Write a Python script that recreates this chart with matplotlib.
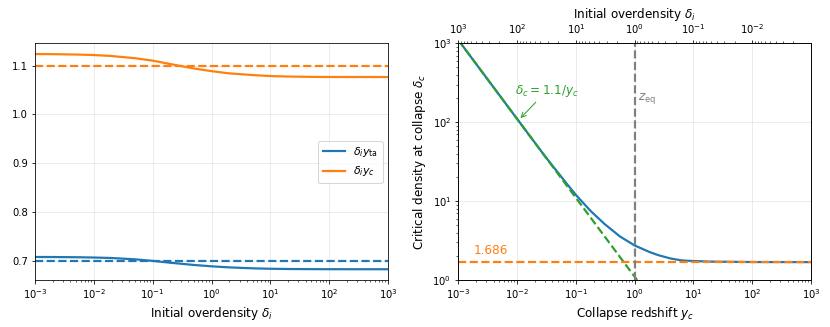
import matplotlib
matplotlib.use("Agg")
import matplotlib.pyplot as plt

# left panel: delta_i * y vs initial overdensity
delta_i = [1e-3, 2e-3, 5e-3, 1e-2, 2e-2, 5e-2, 0.1, 0.2, 0.5, 1, 2, 5, 10, 20, 50, 100, 1000]
dy_ta = [0.7083, 0.7082, 0.7078, 0.7072, 0.7062, 0.7035, 0.7003, 0.6965, 0.6920, 0.6892,
         0.6870, 0.6851, 0.6842, 0.6837, 0.6834, 0.6833, 0.6832]
dy_c = [1.1235, 1.1233, 1.1225, 1.1215, 1.1195, 1.1150, 1.1100, 1.1030, 1.0940, 1.0885,
        1.0840, 1.0805, 1.0785, 1.0775, 1.0768, 1.0766, 1.0765]
ref_ta = 0.7
ref_c = 1.1

# right panel: critical density vs collapse redshift
y_c = [1e-3, 2e-3, 5e-3, 1e-2, 2e-2, 3e-2, 5e-2, 7e-2, 0.1, 0.178, 0.31, 0.56, 1.0,
       1.8, 2.5, 4, 6.3, 10, 20, 100, 1000]
delta_c = [1100, 550, 220, 110, 55.2, 36.8, 22.8, 16.6, 12.0, 7.5, 5.1, 3.57, 2.74,
           2.26, 2.07, 1.88, 1.77, 1.74, 1.71, 1.69, 1.686]
fit_x = [1e-3, 1.1]
fit_y = [1100, 1.0]
delta_lin = 1.686
z_eq = 1.0
top_ticks = [1e3, 1e2, 1e1, 1e0, 1e-1, 1e-2]

plt.rcParams["axes.labelsize"] = 12
plt.rcParams["legend.fontsize"] = 11

fig = plt.figure(figsize=(830 / 72, 327 / 72), dpi=72)
ax1 = fig.add_axes([0.0422, 0.1437, 0.4253, 0.7239])
ax2 = fig.add_axes([0.5522, 0.1437, 0.4249, 0.7239])

ax1.plot(delta_i, dy_ta, color="C0", lw=2.2, label=r"$\delta_i y_{\rm ta}$")
ax1.plot(delta_i, dy_c, color="C1", lw=2.2, label=r"$\delta_i y_c$")
ax1.axhline(ref_ta, color="C0", ls="--", lw=2.2)
ax1.axhline(ref_c, color="C1", ls="--", lw=2.2)
ax1.set_xscale("log")
ax1.set_xlim(1e-3, 1e3)
ax1.set_xlabel(r"Initial overdensity $\delta_i$")
ax1.grid(alpha=0.3)
ax1.legend(loc="center right")

ax2.plot(y_c, delta_c, color="C0", lw=2.2)
ax2.plot(fit_x, fit_y, color="C2", ls="--", lw=2.2)
ax2.axhline(delta_lin, color="C1", ls="--", lw=2.2)
ax2.axvline(z_eq, color="gray", ls="--", lw=2.2)
ax2.set_xscale("log")
ax2.set_yscale("log")
ax2.set_xlim(1e-3, 1e3)
ax2.set_ylim(1, 1e3)
ax2.set_xlabel(r"Collapse redshift $y_c$")
ax2.set_ylabel(r"Critical density at collapse $\delta_c$")
ax2.grid(alpha=0.3)
ax2.text(1.8e-3, 1.95, "1.686", color="C1", fontsize=12, va="bottom")
ax2.text(1.12, 200, r"$z_{\rm eq}$", color="gray", fontsize=12, va="center")
ax2.annotate(r"$\delta_c = 1.1/y_c$", xy=(0.0108, 108), xytext=(0.0092, 250),
             color="C2", fontsize=12, va="center",
             arrowprops=dict(arrowstyle="->", color="C2"))

top = ax2.twiny()
top.set_xscale("log")
top.set_xlim(1e3, 1.001e-3)
top.set_xticks(top_ticks)
top.set_xlabel(r"Initial overdensity $\delta_i$")

fig.savefig("out.png", dpi=72)
